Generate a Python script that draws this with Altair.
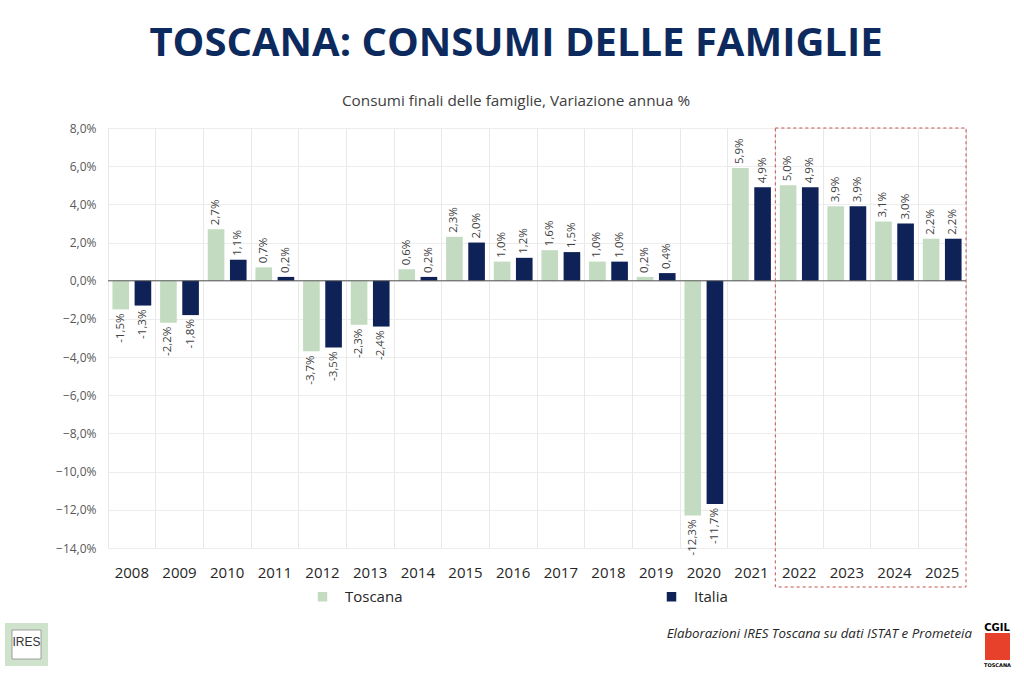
import altair as alt
import pandas as pd

years = [str(y) for y in range(2008, 2026)]
toscana = [-1.5, -2.2, 2.7, 0.7, -3.7, -2.3, 0.6, 2.3, 1.0, 1.6, 1.0, 0.2, -12.3, 5.9, 5.0, 3.9, 3.1, 2.2]
italia = [-1.3, -1.8, 1.1, 0.2, -3.5, -2.4, 0.2, 2.0, 1.2, 1.5, 1.0, 0.4, -11.7, 4.9, 4.9, 3.9, 3.0, 2.2]
series = ["Toscana", "Italia"]
colors = ["#c3dbc0", "#0e2258"]
y_ticks = list(range(-14, 9, 2))

rows = []
for i, yr in enumerate(years):
    rows.append({"anno": yr, "serie": "Toscana", "valore": toscana[i]})
    rows.append({"anno": yr, "serie": "Italia", "valore": italia[i]})
df = pd.DataFrame(rows)
df["etichetta"] = df["valore"].map(lambda v: f"{v:.1f}".replace(".", ",") + "%")

W, H = 858, 420
FONT = "Open Sans"

x_axis = alt.Axis(orient="bottom", labelAngle=0, labelFontSize=15, labelColor="#262626",
                  labelFont=FONT, labelPadding=17, ticks=False, domain=False,
                  grid=True, gridColor="#e8e8e8", bandPosition=0)
x_enc = alt.X("anno:N", sort=years, title=None,
              scale=alt.Scale(paddingInner=0, paddingOuter=0), axis=x_axis)
xo_enc = alt.XOffset("serie:N", sort=series, scale=alt.Scale(paddingInner=0.25, paddingOuter=0.2))
y_scale = alt.Scale(domain=[-14, 8], nice=False)
y_axis = alt.Axis(values=y_ticks, labelExpr="replace(format(datum.value, '.1f'), '.', ',') + '%'",
                  labelFontSize=12, labelColor="#595959", labelFont=FONT, labelPadding=12,
                  labelOverlap=False, labelFlush=False, ticks=False, domain=False,
                  gridColor="#ececec")
y_enc = alt.Y("valore:Q", scale=y_scale, title=None, axis=y_axis)

base = alt.Chart(df)

bars = base.mark_bar().encode(
    x=x_enc, xOffset=xo_enc, y=y_enc,
    color=alt.Color("serie:N", sort=series, scale=alt.Scale(domain=series, range=colors),
                    legend=alt.Legend(title=None, orient="none", legendX=207, legendY=461,
                                      direction="horizontal", columns=2, columnPadding=261,
                                      symbolType="square", symbolSize=90, symbolStrokeWidth=0,
                                      labelFontSize=15, labelFont=FONT, labelColor="#262626",
                                      labelOffset=15)),
)

lab_pos = base.transform_filter("datum.valore >= 0").mark_text(
    angle=270, align="left", baseline="middle", dx=4, fontSize=11.5, font=FONT, color="#404040"
).encode(x=x_enc, xOffset=xo_enc, y=y_enc, text="etichetta:N")

lab_neg = base.transform_filter("datum.valore < 0").mark_text(
    angle=270, align="right", baseline="middle", dx=-4, fontSize=11.5, font=FONT, color="#404040"
).encode(x=x_enc, xOffset=xo_enc, y=y_enc, text="etichetta:N")

zero = alt.Chart(pd.DataFrame({"valore": [0]})).mark_rule(color="#595959", strokeWidth=1.2).encode(
    y=y_enc, x=alt.value(0), x2=alt.value(W))

one = pd.DataFrame({"a": [1]})
step = W / len(years)
highlight = alt.Chart(one).mark_rect(fillOpacity=0, stroke="#c0504d", strokeDash=[3, 3], strokeWidth=1).encode(
    x=alt.value(step * years.index("2022")), x2=alt.value(W), y=alt.value(0), y2=alt.value(459))

footer = alt.Chart(one).mark_text(align="right", baseline="middle", fontSize=13.3, font=FONT,
                                  fontStyle="italic", color="#262626").encode(
    x=alt.value(864), y=alt.value(506), text=alt.value("Elaborazioni IRES Toscana su dati ISTAT e Prometeia"))

ires_bg = alt.Chart(one).mark_rect(color="#cfe3cc").encode(
    x=alt.value(-103), x2=alt.value(-60), y=alt.value(495), y2=alt.value(538))
ires_in = alt.Chart(one).mark_rect(color="#ffffff", stroke="#8a8a8a", strokeWidth=0.8).encode(
    x=alt.value(-96), x2=alt.value(-67), y=alt.value(502), y2=alt.value(531))
ires_txt = alt.Chart(one).mark_text(fontSize=12, font="Liberation Sans", color="#333333",
                                    baseline="middle").encode(
    x=alt.value(-81.5), y=alt.value(514), text=alt.value("IRES"))
cgil_txt = alt.Chart(one).mark_text(fontSize=10, font="DejaVu Sans", fontWeight="bold", color="#000000",
                                    baseline="middle").encode(
    x=alt.value(889), y=alt.value(500), text=alt.value("CGIL"))
cgil_rect = alt.Chart(one).mark_rect(color="#e8412b").encode(
    x=alt.value(877), x2=alt.value(902), y=alt.value(505), y2=alt.value(532))
cgil_sub = alt.Chart(one).mark_text(fontSize=5, font="DejaVu Sans", fontWeight="bold", color="#000000",
                                    baseline="middle").encode(
    x=alt.value(889.5), y=alt.value(537), text=alt.value("TOSCANA"))

chart = alt.layer(bars, zero, lab_pos, lab_neg, highlight, footer,
                  ires_bg, ires_in, ires_txt, cgil_txt, cgil_rect, cgil_sub).properties(
    width=W, height=H,
    title=alt.TitleParams(text="TOSCANA: CONSUMI DELLE FAMIGLIE",
                          subtitle="Consumi finali delle famiglie, Variazione annua %",
                          anchor="middle", frame="group", dx=-21, offset=13,
                          font=FONT, fontSize=40, fontWeight="bold", color="#0d2a5e",
                          subtitleFont=FONT, subtitleFontSize=15.3, subtitleColor="#404040",
                          subtitlePadding=30),
    autosize=alt.AutoSizeParams(type="none"),
    padding={"left": 108, "top": 128, "right": 58, "bottom": 126},
).configure_view(stroke=None).configure(background="white").configure_axisY(labelOverlap=False)

chart.save("out.html", embed_options={"renderer": "svg", "actions": False})
